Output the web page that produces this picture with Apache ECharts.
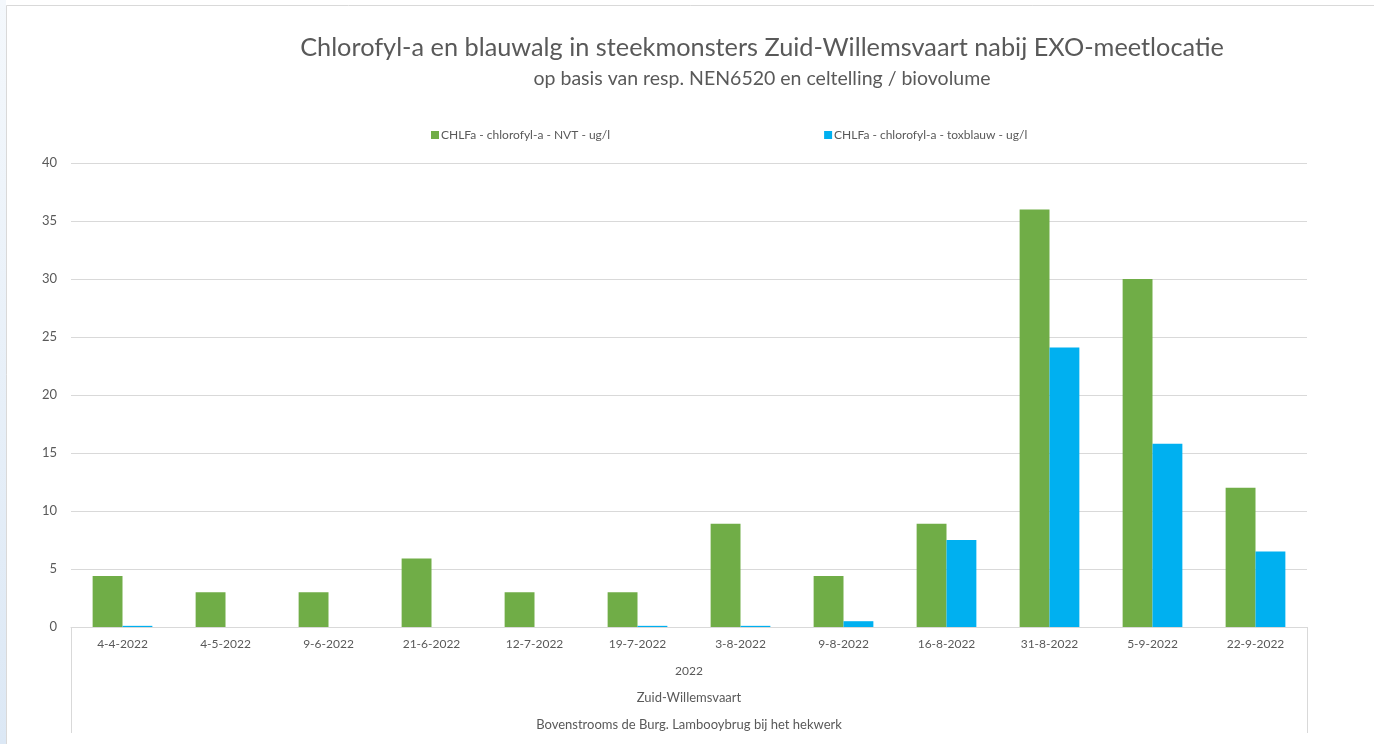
<!DOCTYPE html>
<html>
<head>
<meta charset="utf-8">
<script src="https://cdn.jsdelivr.net/npm/echarts@6/dist/echarts.min.js"></script>
<style>
  html, body { margin: 0; padding: 0; background: #fff; }
  #chart { width: 1374px; height: 744px; }
</style>
</head>
<body>
<div id="chart"></div>
<script>
// Sample dates
const dates = ['4-4-2022', '4-5-2022', '9-6-2022', '21-6-2022', '12-7-2022', '19-7-2022',
  '3-8-2022', '9-8-2022', '16-8-2022', '31-8-2022', '5-9-2022', '22-9-2022'];
// Chlorophyll-a values (ug/l)
const nvtValues = [4.4, 3, 3, 5.9, 3, 3, 8.9, 4.4, 8.9, 36, 30, 12];
const toxblauwValues = [0.1, null, null, null, null, 0.1, 0.1, 0.5, 7.5, 24.1, 15.8, 6.5];
const yTicks = [0, 5, 10, 15, 20, 25, 30, 35, 40];
const levelLabels = ['2022', 'Zuid-Willemsvaart', 'Bovenstrooms de Burg. Lambooybrug bij het hekwerk'];

const textColor = '#595959';
const fontFamily = 'Lato, "Open Sans", sans-serif';

const chart = echarts.init(document.getElementById('chart'));

// one extra category axis per grouping level below the dates
const levelAxes = levelLabels.map((label, i) => ({
  type: 'category',
  position: 'bottom',
  data: [label],
  axisLine: { show: false },
  axisTick: { show: false },
  axisLabel: { color: textColor, fontSize: i === 0 ? 12 : 13, fontFamily, margin: 38 + i * 26.5 },
  splitLine: { show: false }
}));

const option = {
  backgroundColor: '#fff',
  textStyle: { fontFamily },
  title: {
    text: 'Chlorofyl-a en blauwalg in steekmonsters Zuid-Willemsvaart nabij EXO-meetlocatie',
    subtext: 'op basis van resp. NEN6520 en celtelling / biovolume',
    left: 757,
    textAlign: 'center',
    top: 30,
    itemGap: 9,
    textStyle: { color: textColor, fontSize: 25.3, fontWeight: 'normal', fontFamily },
    subtextStyle: { color: textColor, fontSize: 19.5, fontFamily }
  },
  legend: {
    top: 124,
    left: 426,
    itemWidth: 8,
    itemHeight: 8,
    itemGap: 214,
    icon: 'rect',
    textStyle: { color: textColor, fontSize: 12, fontFamily, padding: [0, 0, 0, -3] },
    data: ['CHLFa - chlorofyl-a - NVT - ug/l', 'CHLFa - chlorofyl-a - toxblauw - ug/l']
  },
  grid: {
    left: 71,
    right: 67,
    top: 163,
    bottom: 117
  },
  xAxis: [
    {
      type: 'category',
      data: dates,
      axisLine: { lineStyle: { color: '#d9d9d9', width: 1 } },
      axisTick: { show: false },
      axisLabel: { color: textColor, fontSize: 12, fontFamily, margin: 11, interval: 0 }
    },
    // boundary lines enclosing the grouping labels
    {
      type: 'category',
      position: 'bottom',
      data: [''],
      axisLine: { show: false },
      axisTick: { show: true, length: 106, lineStyle: { color: '#d9d9d9' } },
      axisLabel: { show: false }
    },
    ...levelAxes
  ],
  yAxis: {
    type: 'value',
    min: yTicks[0],
    max: yTicks[yTicks.length - 1],
    interval: 5,
    axisLine: { show: false },
    axisTick: { show: false },
    axisLabel: { color: textColor, fontSize: 13, fontFamily, margin: 14 },
    splitLine: { lineStyle: { color: '#d9d9d9', width: 1 } }
  },
  series: [
    {
      name: 'CHLFa - chlorofyl-a - NVT - ug/l',
      type: 'bar',
      data: nvtValues,
      barGap: 0,
      barCategoryGap: '42%',
      itemStyle: { color: '#70ad47' }
    },
    {
      name: 'CHLFa - chlorofyl-a - toxblauw - ug/l',
      type: 'bar',
      data: toxblauwValues,
      itemStyle: { color: '#00b0f0' }
    }
  ],
  graphic: [
    {
      type: 'rect',
      silent: true,
      z: -10,
      shape: { x: 0, y: 0, width: 6, height: 744 },
      style: { fill: new echarts.graphic.LinearGradient(0, 0, 0, 1, [
        { offset: 0, color: '#f4f8fc' },
        { offset: 1, color: '#dce8f5' }
      ]) }
    },
    {
      type: 'polyline',
      silent: true,
      shape: { points: [[6.5, 744], [6.5, 5.5], [1374, 5.5]] },
      style: { stroke: '#d9d9d9', lineWidth: 1, fill: null }
    }
  ]
};

chart.setOption(option);
</script>
</body>
</html>
